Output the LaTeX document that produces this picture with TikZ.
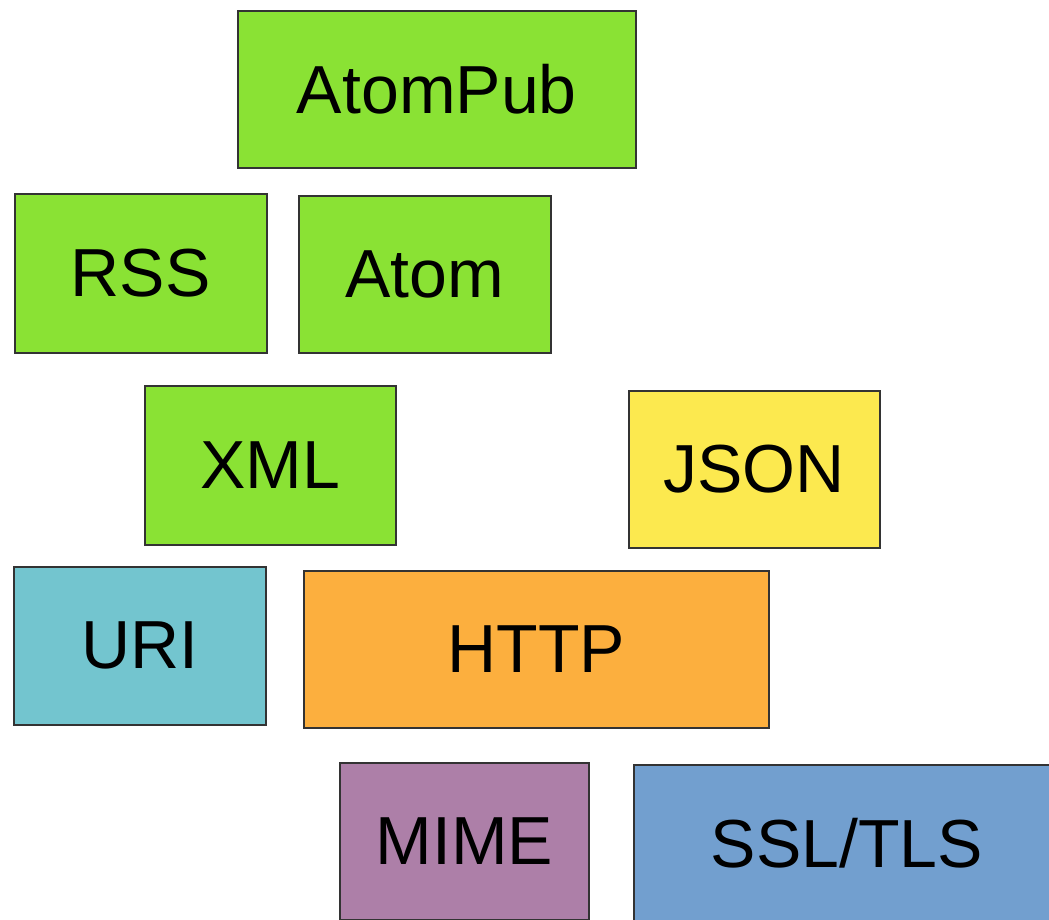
\documentclass[tikz,border=0pt]{standalone}
\usepackage{fontspec}
\setmainfont{Liberation Sans}
\definecolor{cgreen}{HTML}{8AE234}
\definecolor{cyellow}{HTML}{FCE94F}
\definecolor{cteal}{HTML}{73C5CF}
\definecolor{corange}{HTML}{FCAF3E}
\definecolor{cplum}{HTML}{AD7FA8}
\definecolor{cblue}{HTML}{729FCF}
\definecolor{cedge}{HTML}{333333}
\tikzset{
  layer/.style={draw=cedge, line width=1.6pt, anchor=north west, inner sep=0pt,
    font=\fontsize{68}{80}\selectfont},
}
% place a box by its top-left corner and size, in pixel-like points
\newcommand\layerbox[7]{%
  \node[layer, fill=#2, minimum width=#5pt, minimum height=#6pt] (#1) at (#3pt,-#4pt) {#7};}
\begin{document}
\begin{tikzpicture}
\useasboundingbox (0,0) rectangle (1049pt,-919pt);
\clip (0,0) rectangle (1049pt,-919pt);
\layerbox{atompub}{cgreen}{237}{10}{398}{157}{AtomPub}
\layerbox{rss}{cgreen}{14}{193}{252}{159}{RSS}
\layerbox{atom}{cgreen}{298}{195}{252}{157}{Atom}
\layerbox{xml}{cgreen}{144}{385}{251}{159}{XML}
\layerbox{json}{cyellow}{628}{390}{251}{157}{JSON}
\layerbox{uri}{cteal}{13}{566}{252}{158}{URI}
\layerbox{http}{corange}{303}{570}{465}{157}{HTTP}
\layerbox{mime}{cplum}{339}{762}{249}{157}{MIME}
\layerbox{ssl}{cblue}{633}{764}{426}{156}{SSL/TLS}
\end{tikzpicture}
\end{document}
